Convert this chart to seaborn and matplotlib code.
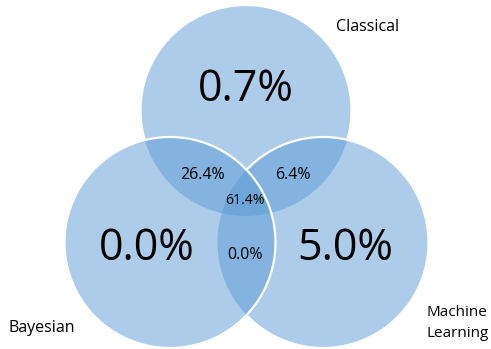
import matplotlib
matplotlib.use("Agg")
import matplotlib.pyplot as plt
from matplotlib.patches import Circle
import numpy as np
import seaborn as sns

sns.set_theme(style="white")
plt.rcParams["font.family"] = ["Open Sans", "DejaVu Sans"]

# Set names and region shares (percent of respondents)
set_names = ["Classical", "Bayesian", "Machine\nLearning"]
only_shares = [0.7, 0.0, 5.0]               # Classical only, Bayesian only, ML only
pair_names = ["Classical & Bayesian", "Classical & ML", "Bayesian & ML"]
pair_shares = [26.4, 6.4, 0.0]
all_three_share = 61.4

base = sns.color_palette(["#5B9BD5"])[0]

fig = plt.figure(figsize=(4.91, 3.49), dpi=100)
ax = fig.add_axes([0, 0, 1, 1])
ax.set_xlim(0, 491)
ax.set_ylim(349, 0)
ax.set_aspect("equal")
ax.axis("off")

# circle layout (centre x, centre y, radius); drawing order bottom -> top
centres = {"Classical": (246, 110.5), "Bayesian": (170, 242.5), "ML": (323, 242.5)}
radius = 105.5
order = ["Classical", "ML", "Bayesian"]

for key in order:
    ax.add_patch(Circle(centres[key], radius, facecolor=base, alpha=0.5,
                        edgecolor="none", zorder=1))

# white outlines: only the parts not covered by circles stacked above
theta = np.linspace(0, 2 * np.pi, 1500)
for i, key in enumerate(order):
    cx, cy = centres[key]
    xs = cx + radius * np.cos(theta)
    ys = cy + radius * np.sin(theta)
    hidden = np.zeros_like(xs, dtype=bool)
    for above in order[i + 1:]:
        ox, oy = centres[above]
        hidden |= (xs - ox) ** 2 + (ys - oy) ** 2 < (radius - 0.5) ** 2
    xs = np.where(hidden, np.nan, xs)
    ys = np.where(hidden, np.nan, ys)
    ax.plot(xs, ys, color="white", lw=1.6, zorder=2 + i,
            solid_capstyle="butt")

big_pos = [(246, 90), (147, 249), (345, 249)]
for (x, y), v in zip(big_pos, only_shares):
    ax.text(x, y, f"{v:.1f}%", fontsize=31, ha="center", va="center",
            color="black", zorder=6)

pair_pos = [(203, 175), (293, 175), (245, 255)]
for (x, y), v in zip(pair_pos, pair_shares):
    ax.text(x, y, f"{v:.1f}%", fontsize=11.5, ha="center", va="center",
            color="black", zorder=6)

ax.text(245, 201, f"{all_three_share:.1f}%", fontsize=10.2, ha="center",
        va="center", color="black", zorder=6)

label_pos = [(336, 27), (8, 328), (427, 323)]
label_sizes = [11.5, 11.5, 11]
for (x, y), name, fs in zip(label_pos, set_names, label_sizes):
    ax.text(x, y, name, fontsize=fs, ha="left", va="center", color="black",
            linespacing=1.55, zorder=6)

fig.savefig("out.png", dpi=100)
